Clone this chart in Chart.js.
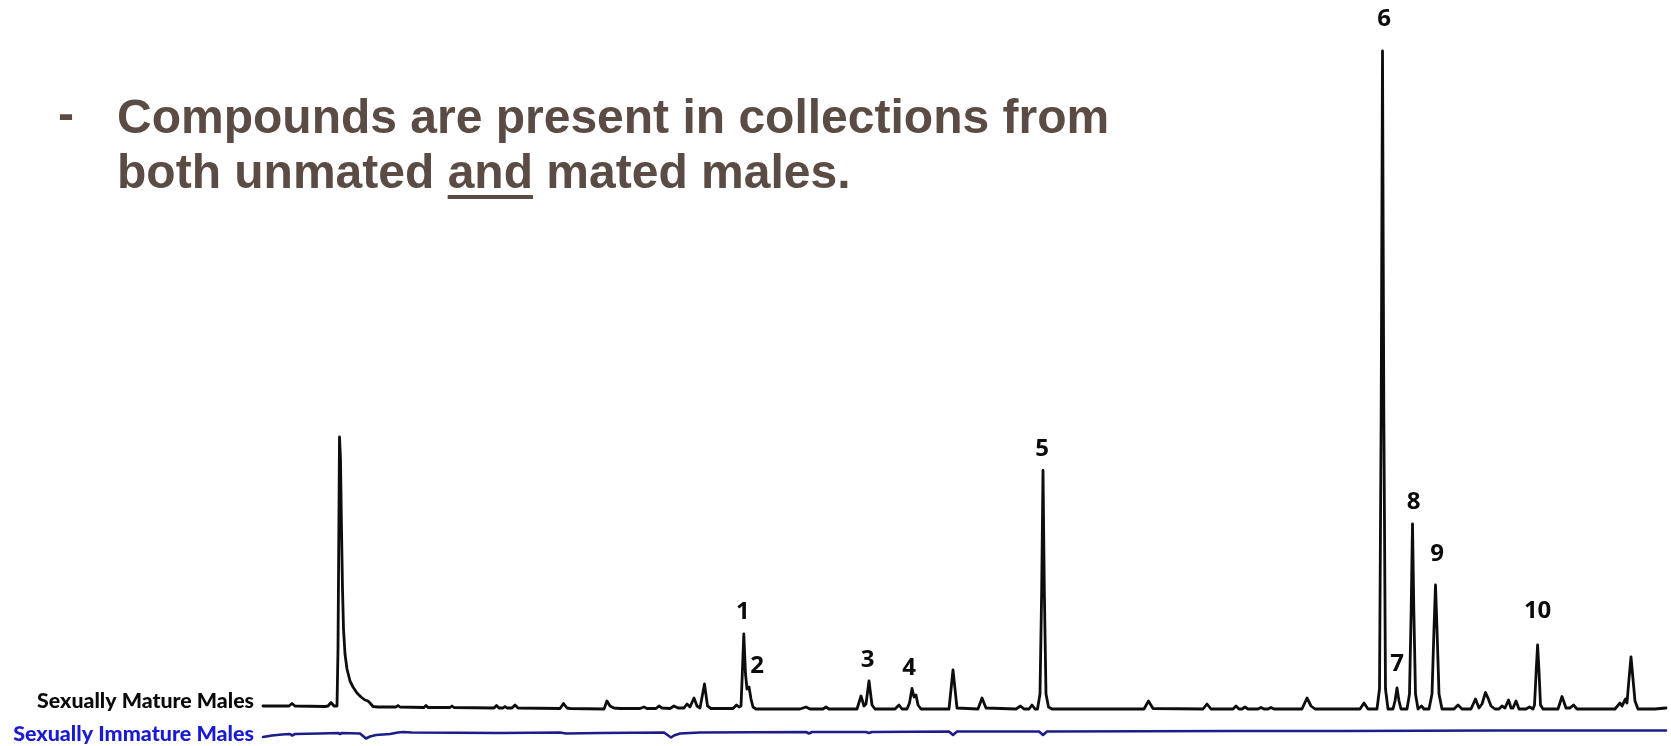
<!DOCTYPE html>
<html>
<head>
<meta charset="utf-8">
<title>Chromatogram - mature vs immature males</title>
<script src="https://cdn.jsdelivr.net/npm/chart.js@4.4.1/dist/chart.umd.min.js"></script>
<style>
    html, body { margin: 0; padding: 0; background: #ffffff; overflow: hidden; }
    #wrap { position: relative; width: 1671px; height: 746px; }
    #cGc { position: absolute; left: 0; top: 0; }
    .tajuk {
        position: absolute; white-space: nowrap;
        font-family: "Liberation Sans", Arial, sans-serif; font-weight: bold;
        font-size: 48px; line-height: 55px; color: #5a4c44;
    }
    .tajuk u { text-decoration-thickness: 4px; text-underline-offset: 7px; }
</style>
</head>
<body>
<div id="wrap">
    <canvas id="cGc" width="1671" height="746"></canvas>
    <div class="tajuk" style="left:58px; top:86px;">-</div>
    <div class="tajuk" style="left:117px; top:89px;">Compounds are present in collections from</div>
    <div class="tajuk" style="left:117px; top:144px;">both unmated <u>and</u> mated males.</div>
</div>

<script>
// ==========================================
// GC trace: sexually mature vs immature males
// x = scan index, y = detector response (arbitrary units)
// ==========================================

// Sexually mature males - scan index
const matureScan = [
    0, 22, 26, 29, 32, 62, 65, 68, 71, 74,
    75, 76.5, 77.5, 78.5, 79.5, 80.5, 82, 84, 87, 90, 94, 98, 102, 105, 107, 110, 115,
    133, 135, 137, 161, 163, 165, 187, 189, 191,
    231, 233.5, 236, 240, 242, 244, 249, 252, 255,
    297, 300.5, 304, 307, 341, 344, 347, 351, 357,
    377, 381, 384, 393, 396, 399, 407, 411, 415,
    421, 424, 427, 431, 434, 437, 441.5, 444.5, 448,
    470, 473.5, 476, 478, 479.5, 480.8, 482.5, 484, 486, 488, 490, 493,
    537, 543, 547, 560, 563, 566,
    594, 598, 601, 603, 606, 609, 612,
    632, 636, 639, 644, 646.5, 649, 651, 653, 655, 658,
    686, 690, 694, 715, 719, 723,
    753, 757.5, 761, 766, 769, 772,
    774.5, 777, 778.7, 780, 781.3, 783, 785.5, 789,
    881, 885.5, 890, 940, 944, 948,
    970, 973, 976, 979, 982, 985, 995, 998, 1001, 1005, 1008, 1011,
    1039, 1044, 1048, 1052, 1097, 1101, 1105,
    1114, 1116.5, 1118.2, 1119.5, 1120.8, 1122.5, 1125,
    1130, 1132, 1134, 1136, 1138,
    1144, 1146.5, 1148.2, 1149.5, 1150.8, 1152.5, 1155, 1158.5, 1161,
    1166, 1169, 1171, 1172.5, 1174, 1176, 1179,
    1191, 1195, 1199,
    1208, 1212.5, 1216, 1219, 1222.5, 1225, 1228, 1232,
    1236, 1239, 1242, 1245.5, 1248, 1250, 1253, 1256,
    1263, 1266.5, 1270,
    1271.5, 1273.3, 1274.6, 1275.9, 1277.5, 1280,
    1295, 1299, 1303, 1307, 1310.5, 1314,
    1352, 1357, 1359, 1362.5, 1364, 1366, 1368, 1370, 1372, 1375,
    1392, 1397, 1403
];

// Sexually mature males - response
const matureSignal = [
    3, 3, 3, 5.5, 3, 2.5, 3, 6.5, 3, 3,
    60, 272, 250, 180, 120, 80, 55, 40, 28, 22, 16, 12, 9, 8, 6, 2.5, 2,
    2, 3.5, 2, 1.5, 3.5, 1.5, 1.5, 3, 1.5,
    1, 3.5, 1, 1, 2.5, 1, 1, 4, 1,
    0.5, 5.5, 1, 0.5, 0, 8, 3, 1, 0.5,
    0.5, 2, 0.5, 0.5, 3, 1, 0.5, 3, 1,
    1, 5, 2, 11, 3, 1, 25, 3, 0.5,
    0.5, 4, 2, 3, 40, 75, 35, 20, 22, 10, 2, 0,
    0, 2, 0, 0, 2, 0,
    0, 13, 3, 5, 28, 4, 0,
    0, 4, 0, 0, 6, 20.5, 12, 14, 4, 0,
    0, 39, 1, 0, 11, 1,
    0, 3, 0, 0, 4, 0,
    0, 15, 120, 238.5, 120, 15, 2, 0,
    0, 8, 0.5, 0, 5, 0,
    0, 3, 0, 0, 2, 0, 0, 1.5, 0, 0, 1.5, 0,
    0, 11, 3, 0, 0, 6, 0,
    0, 20, 300, 658, 300, 20, 0,
    0, 8, 21, 8, 0,
    0, 15, 100, 185, 100, 15, 0, 3, 0,
    0, 15, 80, 124, 80, 15, 0,
    0, 4, 0,
    0, 10, 1, 5, 16.5, 11, 3, 0,
    0, 3, 1, 9, 1, 1, 8, 0,
    0, 2, 0,
    4, 40, 64, 40, 4, 0,
    0, 12.5, 1, 1, 4, 0,
    0, 6, 3, 10, 6, 30, 52, 30, 8, 0,
    0, 0.5, 1
];

// Sexually immature males - scan index & response
const immatureScan = [
    0, 9, 19, 27, 29, 32, 57, 75, 77, 79, 97, 103, 107, 113, 127, 135, 140, 149,
    237, 297, 303, 337, 401, 408, 411, 417, 437,
    543, 546, 549, 603, 606, 609, 686, 690, 694, 776, 780, 784,
    973, 1082, 1231, 1403
];
const immatureSignal = [
    -4, -2.5, -1.5, -1, -2.5, -1, -0.5, 0, -1, 0, -0.5, -5.5, -3.5, -2, -1, 0.5, 1, 0.5,
    0, 0.5, -0.5, 0, 0.5, -4.5, -2.5, -0.5, 0.5,
    1, -0.5, 1, 1, 0, 1, 1.5, -2, 1.5, 1.5, -2, 1.5,
    2, 2, 2.5, 2.5
];

// Numbered compounds and the scan of each apex
const peakNumbers = ['1', '2', '3', '4', '5', '6', '7', '8', '9', '10'];
const peakScans = [480.8, 486, 606, 649, 780, 1119.5, 1134, 1149.5, 1172.5, 1274.6];

const seriesNames = ['Sexually Mature Males', 'Sexually Immature Males'];

// the mature trace sits above the immature one
const MATURE_OFFSET = 24;

const GcChart = {
    chart: null,

    // gap (px) between apex and label baseline, and sideways shift
    labelGap: [15, 14, 14, 13.5, 14.5, 25, 17, 15, 24, 27],
    labelShift: [-1, 8, -1.5, -3, -1, 1.5, 0, 1, 1.5, 0],

    bina: function() {
        const mature = matureScan.map((s, i) => ({ x: s, y: matureSignal[i] + MATURE_OFFSET }));
        const immature = immatureScan.map((s, i) => ({ x: s, y: immatureSignal[i] }));
        const self = this;

        // series names at the start of each trace
        const namaSiri = {
            id: 'namaSiri',
            afterDatasetsDraw(chart) {
                const ctx = chart.ctx;
                const sasaran = [217, 241];
                const warna = ['#0a0a0a', '#1a1ad2'];
                const turun = [2, 4];
                chart.data.datasets.forEach((ds, i) => {
                    const p = chart.getDatasetMeta(i).data[0];
                    ctx.save();
                    ctx.font = '900 20px Lato, "Open Sans", sans-serif';
                    const w = ctx.measureText(seriesNames[i]).width;
                    const saiz = 20 * sasaran[i] / w;
                    ctx.font = '900 ' + saiz.toFixed(2) + 'px Lato, "Open Sans", sans-serif';
                    ctx.fillStyle = warna[i];
                    ctx.textAlign = 'right';
                    ctx.textBaseline = 'alphabetic';
                    ctx.fillText(seriesNames[i], p.x - 9, p.y + turun[i]);
                    ctx.restore();
                });
            }
        };

        // compound numbers above their peaks
        const nomborPuncak = {
            id: 'nomborPuncak',
            afterDatasetsDraw(chart) {
                const ctx = chart.ctx;
                const xs = chart.scales.x, ys = chart.scales.y;
                ctx.save();
                ctx.font = 'bold 24px "Open Sans", Lato, sans-serif';
                ctx.fillStyle = '#0a0a0a';
                ctx.textAlign = 'center';
                ctx.textBaseline = 'alphabetic';
                peakNumbers.forEach((n, i) => {
                    const k = matureScan.indexOf(peakScans[i]);
                    if (k < 0) return;
                    const px = xs.getPixelForValue(peakScans[i]);
                    const py = ys.getPixelForValue(matureSignal[k] + MATURE_OFFSET);
                    ctx.fillText(n, px + self.labelShift[i], py - self.labelGap[i]);
                });
                ctx.restore();
            }
        };

        this.chart = new Chart(document.getElementById('cGc'), {
            type: 'line',
            data: {
                datasets: [
                    { label: seriesNames[0], data: mature, borderColor: '#0d0d0d', borderWidth: 2.8 },
                    { label: seriesNames[1], data: immature, borderColor: '#1c1c8a', borderWidth: 2.6 }
                ]
            },
            options: {
                responsive: false, animation: false, devicePixelRatio: 1,
                layout: { padding: 0 },
                elements: {
                    point: { radius: 0, hoverRadius: 0 },
                    line: { tension: 0, borderJoinStyle: 'round', borderCapStyle: 'round', fill: false }
                },
                scales: {
                    x: { type: 'linear', min: -263, max: 1408, display: false },
                    y: { type: 'linear', min: -13, max: 733, display: false }
                },
                plugins: { legend: { display: false }, tooltip: { enabled: false }, title: { display: false } }
            },
            plugins: [namaSiri, nomborPuncak]
        });
    }
};

GcChart.bina();
</script>
</body>
</html>
